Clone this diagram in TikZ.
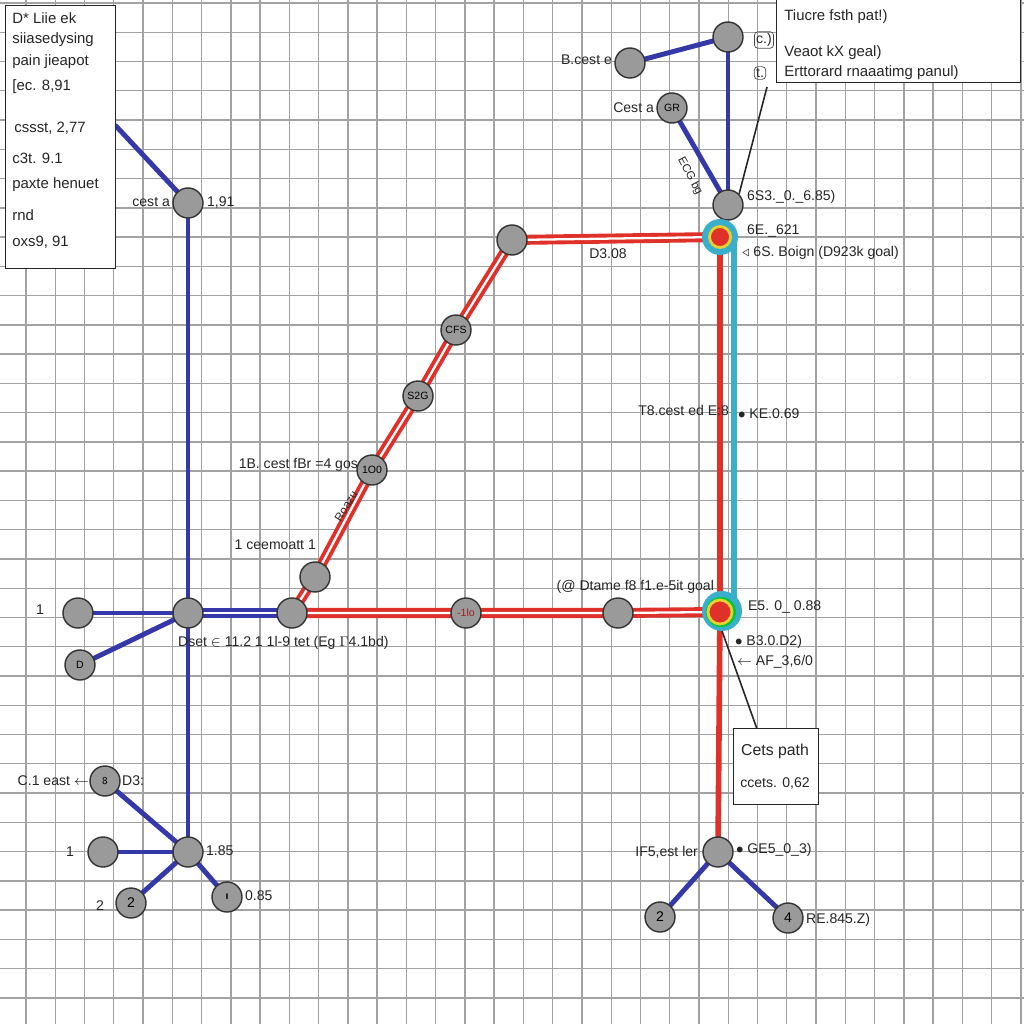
\documentclass[tikz,border=0pt]{standalone}
\usepackage{fontspec}
\setmainfont{Liberation Sans}
\pgfdeclarelayer{gridlayer}
\pgfdeclarelayer{bg}
\pgfsetlayers{gridlayer,bg,main}
\definecolor{nodegray}{HTML}{9A9A9A}
\definecolor{bl}{HTML}{3438A8}
\definecolor{rd}{HTML}{E0302A}
\definecolor{tl}{HTML}{3AAFCB}
\definecolor{yl}{HTML}{E8D030}
\definecolor{gridc}{HTML}{A2A2A2}
\begin{document}
\begin{tikzpicture}[x=0.02cm,y=-0.02cm,
  vtx/.style={circle,fill=nodegray,draw=black!80,line width=0.8pt,minimum size=0.6cm,inner sep=0pt,font=\fontsize{6}{6}\selectfont},
  goal/.style={circle,fill=rd,draw=yl,line width=1.6pt,minimum size=0.42cm,inner sep=0pt},
  ring/.style={circle,fill=tl,minimum size=0.72cm,inner sep=0pt},
  txt/.style={font=\fontsize{8}{9}\selectfont,inner sep=1pt,text=black!85},
  boxtxt/.style={font=\fontsize{8.5}{10}\selectfont,inner sep=0pt,anchor=west,text=black!85},
  infobox/.style={draw=black!85,fill=white,line width=0.8pt},
  bline/.style={draw=bl,line width=2.8pt},
  bdouble/.style={draw=bl,double=white,double distance=1.3pt,line width=2pt},
  rdouble/.style={draw=rd,double=white,double distance=1.3pt,line width=2.2pt},
  rline/.style={draw=rd,line width=3.2pt},
  tline/.style={draw=tl,line width=3.4pt},
  thin/.style={draw=black!85,line width=0.9pt}]
\useasboundingbox (0,0) rectangle (1024,1024);
\begin{pgfonlayer}{gridlayer}
\fill[white] (0,0) rectangle (1024,1024);
\foreach \i in {0,...,34} {
  \pgfmathsetmacro{\gx}{26+29.26*\i}
  \pgfmathsetmacro{\gy}{3+29.26*\i}
  \draw[gridc,line width=0.8pt] (\gx,0) -- (\gx,1024);
  \draw[gridc,line width=0.8pt] (0,\gy) -- (1024,\gy);
}
\end{pgfonlayer}

% boxes
\node[infobox,minimum width=2.2cm,minimum height=5.26cm,anchor=north west] (lbox) at (5,5) {};
\node[boxtxt] at (12,18) {D* Liie ek};
\node[boxtxt] at (12,40) {siiasedysing};
\node[boxtxt] at (12,62) {pain jieapot};
\node[boxtxt] at (12,87) {[ec. 8,91};
\node[boxtxt] at (14,128) {cssst, 2,77};
\node[boxtxt] at (12,158) {c3t. 9.1};
\node[boxtxt] at (12,185) {paxte henuet};
\node[boxtxt] at (12,215) {rnd};
\node[boxtxt] at (12,242) {oxs9, 91};
\coordinate (lboxout) at (115,125);

\node[infobox,minimum width=4.88cm,minimum height=1.72cm,anchor=south west] (legend) at (776,83) {};
\node[boxtxt] at (784,17) {Tiucre fsth pat!)};
\node[boxtxt] at (784,53) {Veaot kX geal)};
\node[boxtxt] at (784,73) {Erttorard rnaaatimg panul)};
\node[txt,draw=black!70,rounded corners=2pt,inner sep=1pt] (mk1) at (764,40) {c.)};
\node[txt,draw=black!70,rounded corners=2pt,inner sep=1pt] (mk2) at (760,73) {t.};
\coordinate (legout) at (767,87);

\node[infobox,minimum width=1.7cm,minimum height=1.52cm,anchor=north west] (cbox) at (733,728) {};
\node[txt,font=\fontsize{9}{10}\selectfont] at (775,751) {Cets path};
\node[txt] at (775,783) {ccets. 0,62};
\coordinate (cboxin) at (757,729);

% blue vertices
\node[vtx] (A1) at (188,203) {};
\node[vtx] (B1) at (188,613) {};
\node[vtx] (L1) at (78,613) {};
\node[vtx] (L2) at (80,665) {D};
\node[vtx] (B2) at (188,852) {};
\node[vtx] (C1) at (105,781) {\textsf{8}};
\node[vtx] (C2) at (103,852) {};
\node[vtx] (C3) at (131,903) {\fontsize{8}{8}\selectfont 2};
\node[vtx] (C4) at (227,897) {\textbf{ı}};
\node[vtx] (T1) at (728,37) {};
\node[vtx] (T2) at (630,63) {};
\node[vtx] (T4) at (672,108) {GR};
\node[vtx] (T3) at (728,205) {};
\node[vtx] (E0) at (718,852) {};
\node[vtx] (E1) at (660,917) {\fontsize{8}{8}\selectfont 2};
\node[vtx] (E2) at (788,918) {\fontsize{8}{8}\selectfont 4};

% red path vertices
\node[vtx] (N) at (292,613) {};
\node[vtx] (D1) at (315,577) {};
\node[vtx] (D2) at (372,470) {1O0};
\node[vtx] (D3) at (418,396) {S2G};
\node[vtx] (D4) at (456,330) {CFS};
\node[vtx] (D5) at (512,240) {};
\node[vtx] (H1) at (466,613) {\textcolor{rd!70!black}{-1lo}};
\node[vtx] (H2) at (618,613) {};
\node[ring] (G1r) at (720,237) {};
\node[goal] (G1) at (720,237) {};
\node[ring,minimum size=0.8cm] (G2r) at (722,611) {};
\node[circle,fill=green!55!teal,minimum size=0.6cm,inner sep=0pt] at (721,612) {};
\node[goal,minimum size=0.48cm] (G2) at (720,612) {};
\coordinate (TT) at (734,242);
\coordinate (TB) at (734,606);

% connectors
\begin{pgfonlayer}{bg}
\draw[bline] (lboxout) -- (A1.center);
\draw[bline] (A1.center) -- (B1.center) -- (B2.center);
\draw[bline] (B1.center) -- (L1.center);
\draw[bline] (B1.center) -- (L2.center);
\draw[bdouble] (B1.center) -- (N.center);
\draw[bline] (B2.center) -- (C1.center);
\draw[bline] (B2.center) -- (C2.center);
\draw[bline] (B2.center) -- (C3.center);
\draw[bline] (B2.center) -- (C4.center);
\draw[bline] (T1.center) -- (T2.center);
\draw[bline] (T1.center) -- (T3.center);
\draw[bline] (T4.center) -- (T3.center);
\draw[bline] (E0.center) -- (E1.center);
\draw[bline] (E0.center) -- (E2.center);
\draw[tline] (TT) -- (TB);
\draw[rline] (G1.center) -- (G2.center) -- (E0.center);
\draw[rdouble] (N.center) -- (D1.center) -- (D2.center) -- (D3.center) -- (D4.center) -- (D5.center) -- (G1.center);
\draw[rdouble] (N.center) -- (H1.center) -- (H2.center) -- (G2.center);
\draw[thin] (legout) -- (T3.north east);
\draw[thin] (G2.south) -- (cboxin);
\end{pgfonlayer}

% labels
\node[txt,anchor=east] at (172,202) {cest a};
\node[txt,anchor=west] at (205,202) {1,91};
\node[txt] at (40,610) {1};
\node[txt] at (70,852) {1};
\node[txt] at (100,906) {2};
\node[txt,anchor=east] at (91,781) {C.1 east $\leftarrow$};
\node[txt,anchor=west] at (120,781) {D3:};
\node[txt,anchor=west] at (204,851) {1.85};
\node[txt,anchor=west] at (243,896) {0.85};
\node[txt,anchor=east] at (614,60) {B.cest e};
\node[txt,anchor=east] at (656,108) {Cest a};
\node[txt,rotate=-62,font=\fontsize{6.5}{7}\selectfont] at (690,176) {ECG bg};
\node[txt,anchor=west] at (745,197) {6S3.\_0.\_6.85)};
\node[txt,anchor=west] at (745,231) {6E.\_621};
\node[txt,anchor=west] at (740,253) {$\triangleleft$ 6S. Boign (D923k goal)};
\node[txt] at (608,254) {D3.08};
\node[txt,anchor=east] at (731,410) {T8.cest ed E:8};
\node[txt,anchor=west] at (736,414) {$\bullet$ KE.0.69};
\node[txt,anchor=east] at (360,465) {1B. cest fBr =4 gos};
\node[txt,anchor=east] at (318,545) {1 ceemoatt 1};
\node[txt,rotate=58,font=\fontsize{6.5}{7}\selectfont] at (346,506) {Roazu};
\node[txt,anchor=east] at (716,587) {(@ Dtame f8 f1.e-5it goal};
\node[txt,anchor=west] at (746,607) {E5. 0\_ 0.88};
\node[txt,anchor=west] at (733,642) {$\bullet$ B3.0.D2)};
\node[txt,anchor=west] at (735,662) {$\leftarrow$ AF\_3,6/0};
\node[txt,anchor=west] at (176,643) {Dset $\in$ 11.2 1 1l-9 tet (Eg $\Gamma$4.1bd)};
\node[txt,anchor=east] at (700,852) {IF5,est ler};
\node[txt,anchor=west] at (734,850) {$\bullet$ GE5\_0\_3)};
\node[txt,anchor=west] at (804,920) {RE.845.Z)};
\end{tikzpicture}
\end{document}
